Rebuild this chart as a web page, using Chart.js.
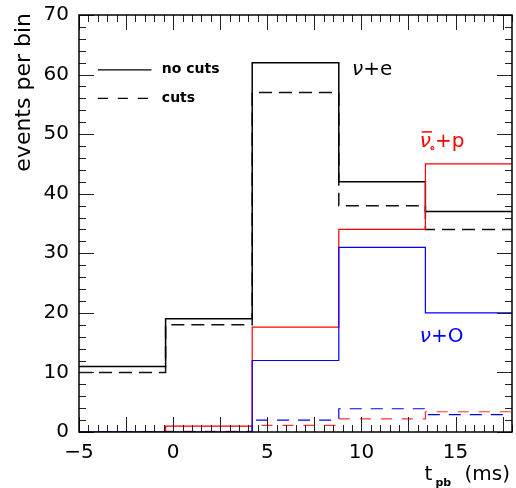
<!DOCTYPE html>
<html>
<head>
<meta charset="utf-8">
<script src="https://cdn.jsdelivr.net/npm/chart.js@4.4.1/dist/chart.umd.min.js"></script>
<style>
  html, body { margin: 0; padding: 0; background: #fff; }
  #wrap { width: 516px; height: 488px; }
</style>
</head>
<body>
<div id="wrap"><canvas id="c" width="516" height="488"></canvas></div>
<script>
// Time bins after bounce (ms): five equal-width bins
const binEdges = [-5, -0.4, 4.2, 8.8, 13.4, 18];

// Events per bin for each channel, without and with cuts
const nuE_noCuts     = [11, 19, 62, 42, 37];
const nuE_cuts       = [10, 18, 57, 38, 34];
const nuebarP_noCuts = [0, 1, 17.6, 34, 45];
const nuebarP_cuts   = [0, 0.1, 1.1, 2.2, 3.4];
const nuO_noCuts     = [0, 0, 12, 31, 20];
const nuO_cuts       = [0, 0, 2, 3.9, 2.9];

// Axis tick labels
const xTickLabels = [-5, 0, 5, 10, 15];
const yTickLabels = [0, 10, 20, 30, 40, 50, 60, 70];

const FONT = '"DejaVu Sans", "Liberation Sans", sans-serif';

// Turn per-bin values into a step outline (flat top across each bin)
function histogram(values) {
  const pts = [];
  values.forEach((v, i) => {
    pts.push({ x: binEdges[i], y: v });
    pts.push({ x: binEdges[i + 1], y: v });
  });
  return pts;
}

function stepSet(label, values, color, dash, width) {
  return {
    label: label,
    data: histogram(values),
    borderColor: color,
    borderWidth: width,
    borderDash: dash,
    pointRadius: 0,
    fill: false,
    tension: 0
  };
}

// Frame, inward ticks on all four sides, legend, channel labels and x title
const decorations = {
  id: 'decorations',
  afterDatasetsDraw(chart) {
    const ctx = chart.ctx;
    const xs = chart.scales.x, ys = chart.scales.y;
    const { left, right, top, bottom } = chart.chartArea;
    ctx.save();

    // ticks
    ctx.strokeStyle = '#222';
    ctx.lineWidth = 1;
    ctx.beginPath();
    for (let k = 0; k <= 46; k++) {
      const v = -5 + k * 0.5;
      const px = Math.round(xs.getPixelForValue(v)) + 0.5;
      const len = (k % 5 === 0) ? 15 : 7;
      ctx.moveTo(px, bottom); ctx.lineTo(px, bottom - len);
      ctx.moveTo(px, top); ctx.lineTo(px, top + len);
    }
    for (let v = 0; v <= 70; v += 2) {
      const py = Math.round(ys.getPixelForValue(v)) + 0.5;
      const len = (v % 10 === 0) ? 15 : 7;
      ctx.moveTo(left, py); ctx.lineTo(left + len, py);
      ctx.moveTo(right, py); ctx.lineTo(right - len, py);
    }
    ctx.stroke();

    // frame
    ctx.strokeStyle = '#000';
    ctx.lineWidth = 1.5;
    ctx.strokeRect(left, top, right - left, bottom - top);

    // legend
    const lx0 = xs.getPixelForValue(-4.0), lx1 = xs.getPixelForValue(-1.15);
    const ly1 = ys.getPixelForValue(60.8), ly2 = ys.getPixelForValue(56.0);
    ctx.lineWidth = 1.3;
    ctx.setLineDash([]);
    ctx.beginPath(); ctx.moveTo(lx0, ly1); ctx.lineTo(lx1, ly1); ctx.stroke();
    ctx.setLineDash([10, 10]);
    ctx.beginPath(); ctx.moveTo(lx0, ly2); ctx.lineTo(lx1, ly2); ctx.stroke();
    ctx.setLineDash([]);
    ctx.fillStyle = '#000';
    ctx.font = 'bold 14px ' + FONT;
    ctx.textBaseline = 'middle';
    ctx.textAlign = 'left';
    const tx = xs.getPixelForValue(-0.6);
    ctx.fillText('no cuts', tx, ly1);
    ctx.fillText('cuts', tx, ly2);

    // ν+e
    let x = xs.getPixelForValue(9.5), y = ys.getPixelForValue(60.8);
    ctx.fillStyle = '#000';
    ctx.font = 'italic 20px ' + FONT;
    ctx.fillText('ν', x, y);
    x += ctx.measureText('ν').width;
    ctx.font = '20px ' + FONT;
    ctx.fillText('+e', x, y);

    // ν̄e+p
    x = xs.getPixelForValue(13.1); y = ys.getPixelForValue(48.7);
    ctx.fillStyle = '#f00';
    ctx.strokeStyle = '#f00';
    ctx.font = 'italic 20px ' + FONT;
    ctx.fillText('ν', x, y);
    const nw = ctx.measureText('ν').width;
    ctx.lineWidth = 1.5;
    ctx.beginPath(); ctx.moveTo(x + 2, y - 10); ctx.lineTo(x + nw + 1, y - 10); ctx.stroke();
    ctx.font = 'bold 7px ' + FONT;
    ctx.fillText('e', x + nw - 1, y + 6);
    ctx.font = '20px ' + FONT;
    ctx.fillText('+p', x + nw + 4, y);

    // ν+O
    x = xs.getPixelForValue(13.1); y = ys.getPixelForValue(15.9);
    ctx.fillStyle = '#00f';
    ctx.font = 'italic 20px ' + FONT;
    ctx.fillText('ν', x, y);
    x += ctx.measureText('ν').width;
    ctx.font = '20px ' + FONT;
    ctx.fillText('+O', x, y);

    // y title
    ctx.fillStyle = '#000';
    ctx.save();
    ctx.translate(24, top - 2);
    ctx.rotate(-Math.PI / 2);
    ctx.font = '22px ' + FONT;
    ctx.textAlign = 'right';
    ctx.textBaseline = 'middle';
    ctx.fillText('events per bin', 0, 0);
    ctx.restore();

    // x title: t_pb (ms)
    ctx.font = '20px ' + FONT;
    ctx.textAlign = 'right';
    ctx.textBaseline = 'middle';
    const ty = 475;
    ctx.fillText('(ms)', right - 2, ty);
    const msw = ctx.measureText('(ms)').width;
    ctx.font = 'bold 11px ' + FONT;
    ctx.textAlign = 'left';
    ctx.fillText('pb', right - 2 - msw - 29, ty + 8);
    ctx.font = '20px ' + FONT;
    ctx.fillText('t', right - 2 - msw - 40, ty);

    ctx.restore();
  }
};

new Chart(document.getElementById('c'), {
  type: 'line',
  data: {
    datasets: [
      stepSet('ν+O', nuO_noCuts, '#0000ff', [], 1.2),
      stepSet('ν+O cuts', nuO_cuts, '#0000ff', [12, 9], 1.2),
      stepSet('ν̄e+p', nuebarP_noCuts, '#ff0000', [], 1.2),
      stepSet('ν̄e+p cuts', nuebarP_cuts, '#ff3333', [11, 10], 1.2),
      stepSet('no cuts', nuE_noCuts, '#000000', [], 1.5),
      stepSet('cuts', nuE_cuts, '#111111', [13, 7], 1.5)
    ]
  },
  options: {
    responsive: false,
    animation: false,
    devicePixelRatio: 1,
    layout: { padding: { left: 0, right: 4, top: 15, bottom: 0 } },
    plugins: { legend: { display: false }, tooltip: { enabled: false } },
    scales: {
      x: {
        type: 'linear', min: -5, max: 18,
        grid: { display: false, drawTicks: false },
        border: { display: false },
        afterBuildTicks: s => { s.ticks = xTickLabels.map(v => ({ value: v })); },
        afterFit: s => { s.height = 56; s.paddingLeft = 0; s.paddingRight = 0; },
        ticks: {
          color: '#000', padding: 9, maxRotation: 0,
          font: { family: FONT, size: 20 },
          callback: v => (v < 0 ? '\u2212' + Math.abs(v) : String(v))
        }
      },
      y: {
        type: 'linear', min: 0, max: 70,
        grid: { display: false, drawTicks: false },
        border: { display: false },
        afterBuildTicks: s => { s.ticks = yTickLabels.map(v => ({ value: v })); },
        afterFit: s => { s.width = 79; s.paddingTop = 0; s.paddingBottom = 0; },
        ticks: {
          color: '#000', padding: 10,
          font: { family: FONT, size: 20 }
        }
      }
    }
  },
  plugins: [decorations]
});
</script>
</body>
</html>
